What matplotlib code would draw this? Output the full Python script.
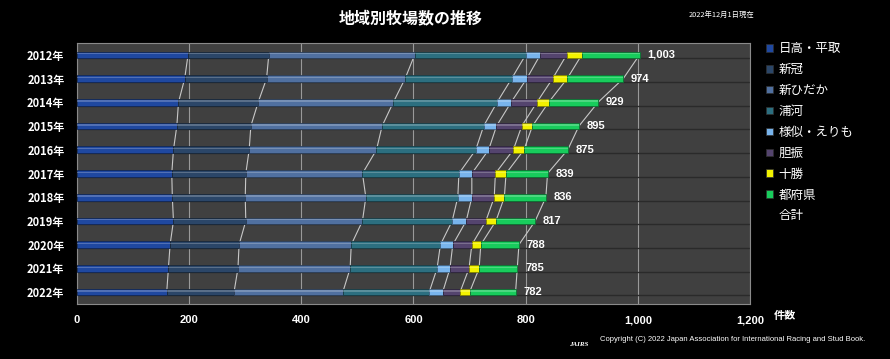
import numpy as np
import matplotlib.pyplot as plt
import matplotlib.colors as mcolors
from matplotlib.patches import Patch
from matplotlib.ticker import FuncFormatter

plt.rcParams['font.family'] = ['Noto Sans CJK JP', 'DejaVu Sans']

# データ
years = ['2012年', '2013年', '2014年', '2015年', '2016年', '2017年',
         '2018年', '2019年', '2020年', '2021年', '2022年']
hidaka = [198, 192, 181, 178, 172, 169, 170, 172, 166, 163, 160]
niikappu = [144, 146, 142, 132, 135, 132, 130, 129, 123, 124, 120]
shinhidaka = [260, 247, 241, 234, 227, 208, 215, 208, 200, 200, 194]
urakawa = [198, 190, 185, 181, 177, 172, 164, 160, 159, 155, 154]
samani = [26, 27, 25, 23, 23, 23, 25, 25, 22, 23, 24]
iburi = [47, 46, 46, 45, 44, 42, 40, 35, 34, 34, 31]
tokachi = [27, 26, 21, 19, 19, 19, 18, 18, 16, 18, 17]
fuken = [103, 100, 88, 83, 78, 74, 74, 70, 68, 68, 82]

series_names = ['日高・平取', '新冠', '新ひだか', '浦河', '様似・えりも', '胆振', '十勝', '都府県']
series_vals = [hidaka, niikappu, shinhidaka, urakawa, samani, iburi, tokachi, fuken]
colors = ['#1f48a0', '#2b4668', '#5070a0', '#2c6f80', '#78b4ec', '#54446e', '#f2f200', '#18cc5c']

fig = plt.figure(figsize=(8.9, 3.59), dpi=100, facecolor='black')
ax = fig.add_axes([0.0865, 0.1532, 0.7562, 0.727])
ax.set_facecolor('#404040')

y = np.arange(len(years))
bar_h = 0.28

# 行ごとの暗い横線
for yy in y:
    ax.axhline(yy + 0.14, color='#2a2a2a', lw=1.0, zorder=1)

ax.set_axisbelow(True)
ax.grid(axis='x', color='#9a9a9a', lw=0.8)

left = np.zeros(len(years))
for name, vals, c in zip(series_names, series_vals, colors):
    vals = np.array(vals, dtype=float)
    dark = tuple(np.array(mcolors.to_rgb(c)) * 0.55)
    light = tuple(np.array(mcolors.to_rgb(c)) * 0.5 + 0.5)
    ax.barh(y, vals, left=left, height=bar_h, color=c, edgecolor=dark,
            linewidth=0.6, zorder=3)
    # 立体っぽいハイライト
    ax.barh(y - 0.05, vals, left=left, height=0.06, color=light, alpha=0.45,
            linewidth=0, zorder=4)
    left = left + vals
    # 区分線
    ax.plot(left, y, color='#c8c8c8', lw=0.8, zorder=2)

totals = left
for yy, t in zip(y, totals):
    ax.text(t + 14, yy, f'{int(t):,}', color='white', fontsize=8,
            fontweight='bold', va='center', ha='left', family='Liberation Sans', zorder=5)

ax.set_xlim(0, 1200)
ax.set_ylim(len(years) - 0.5, -0.5)
ax.set_xticks(np.arange(0, 1201, 200))
ax.xaxis.set_major_formatter(FuncFormatter(lambda v, p: f'{int(v):,}'))
ax.set_yticks(y)
ax.set_yticklabels(years)
ax.tick_params(axis='both', length=0, colors='white', labelsize=8)
ax.tick_params(axis='x', pad=8)
ax.tick_params(axis='y', pad=9)
for lab in ax.get_xticklabels():
    lab.set_fontweight('bold')
    lab.set_family('Liberation Sans')
    lab.set_fontsize(8)
for lab in ax.get_yticklabels():
    lab.set_fontweight('bold')
for sp in ax.spines.values():
    sp.set_color('#8a8a8a')
    sp.set_linewidth(0.8)

# タイトルなど
fig.text(0.461, 0.948, '地域別牧場数の推移', color='white', fontsize=11.5,
         fontweight='bold', ha='center', va='center')
fig.text(0.848, 0.958, '2022年12月1日現在', color='white', fontsize=5.3,
         ha='right', va='center')
fig.text(0.882, 0.122, '件数', color='white', fontsize=8, fontweight='bold',
         ha='center', va='center')
fig.text(0.674, 0.053, 'Copyright (C) 2022 Japan Association for International Racing and Stud Book.',
         color='white', fontsize=5.5, family='Liberation Sans', ha='left', va='center')
fig.text(0.65, 0.04, 'JAIRS', color='white', fontsize=5, fontstyle='italic',
         fontweight='bold', family='Liberation Serif', ha='center', va='center')

# 凡例
handles = [Patch(facecolor=c, edgecolor='#303030', linewidth=0.5) for c in colors]
handles.append(Patch(facecolor='none', edgecolor='none'))
leg = fig.legend(handles, series_names + ['合計'], loc='upper left',
                 bbox_to_anchor=(0.855, 0.896), frameon=False, fontsize=9,
                 handlelength=0.55, handleheight=0.55, handletextpad=0.45,
                 labelspacing=0.63, borderaxespad=0)
for t in leg.get_texts():
    t.set_color('white')

fig.savefig('out.png', dpi=100, facecolor='black')
